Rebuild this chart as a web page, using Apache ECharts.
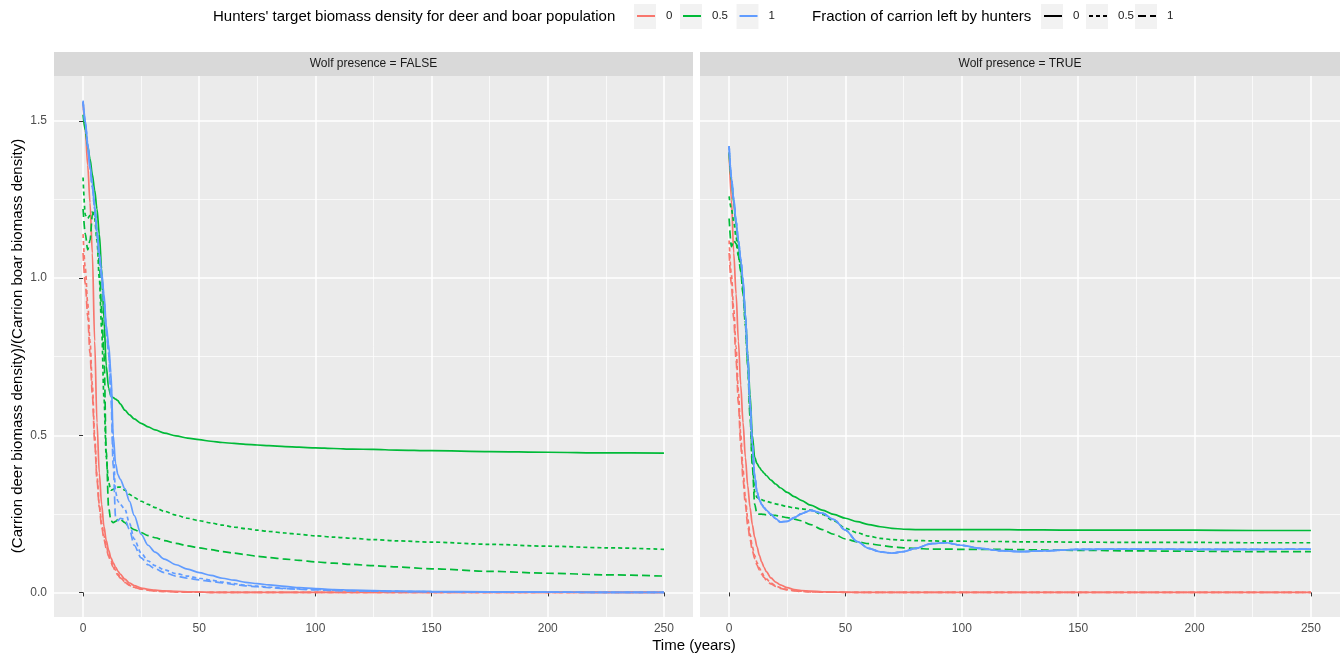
<!DOCTYPE html>
<html>
<head>
<meta charset="utf-8">
<title>Carrion biomass ratio</title>
<script src="https://cdn.jsdelivr.net/npm/echarts@6/dist/echarts.min.js"></script>
<style>
  html, body { margin: 0; padding: 0; background: #fff; }
  #chart { width: 1343px; height: 656px; }
</style>
</head>
<body>
<div id="chart"></div>
<script>
// time axis shared by every run (years)
const years = [0, 1, 2, 3, 4, 5, 6, 7, 8, 9, 10, 11, 12, 13, 14, 15, 16, 18, 20, 22, 25, 28, 31, 35, 40, 45, 50,
  55, 60, 65, 70, 75, 80, 87, 93, 100, 108, 116, 125, 135, 150, 175, 200, 225, 250]

const xTicks = [0, 50, 100, 150, 200, 250]
const xMinor = [25, 75, 125, 175, 225]
const yTicks = [0, 0.5, 1, 1.5]
const yMinor = [0.25, 0.75, 1.25]

// Wolf presence = FALSE
const redSolidF = [1.56, 1.47, 1.36, 1.24, 1.08, 0.8, 0.54, 0.38, 0.28, 0.21, 0.165, 0.135, 0.11, 0.094, 0.08, 0.068, 0.058,
  0.042, 0.03, 0.022, 0.014, 0.01, 0.007, 0.005, 0.003, 0.002, 0.001,
  0, 0, 0, 0, 0, 0, 0, 0, 0, 0, 0, 0, 0, 0, 0, 0, 0, 0]
const redDotF = [1.14, 1.03, 0.92, 0.8, 0.66, 0.5, 0.37, 0.28, 0.22, 0.18, 0.15, 0.12, 0.1, 0.085, 0.07, 0.058, 0.048,
  0.034, 0.024, 0.017, 0.011, 0.007, 0.005, 0.003, 0.002, 0.001, 0.001,
  0, 0, 0, 0, 0, 0, 0, 0, 0, 0, 0, 0, 0, 0, 0, 0, 0, 0]
const redDashF = [1.08, 0.98, 0.88, 0.76, 0.63, 0.48, 0.36, 0.27, 0.21, 0.17, 0.14, 0.115, 0.095, 0.08, 0.066, 0.055, 0.046,
  0.032, 0.022, 0.016, 0.01, 0.007, 0.004, 0.003, 0.002, 0.001, 0.001,
  0, 0, 0, 0, 0, 0, 0, 0, 0, 0, 0, 0, 0, 0, 0, 0, 0, 0]
const greenSolidF = [1.52, 1.47, 1.42, 1.38, 1.33, 1.28, 1.22, 1.14, 1.03, 0.87, 0.72, 0.65, 0.625, 0.62, 0.615, 0.61, 0.6,
  0.58, 0.565, 0.552, 0.538, 0.527, 0.517, 0.507, 0.498, 0.491, 0.486,
  0.481, 0.477, 0.474, 0.471, 0.469, 0.467, 0.464, 0.462, 0.46,
  0.458, 0.456, 0.455, 0.453, 0.451, 0.448, 0.446, 0.444, 0.443]
const greenDotF = [1.32, 1.2, 1.19, 1.2, 1.21, 1.19, 1.12, 1.0, 0.84, 0.62, 0.43, 0.35, 0.325, 0.328, 0.332, 0.335, 0.335,
  0.325, 0.312, 0.302, 0.29, 0.28, 0.27, 0.258, 0.246, 0.236, 0.228,
  0.221, 0.214, 0.208, 0.203, 0.198, 0.194, 0.189, 0.185, 0.18,
  0.176, 0.172, 0.168, 0.164, 0.16, 0.153, 0.147, 0.142, 0.137]
const greenDashF = [1.22, 1.14, 1.09, 1.12, 1.2, 1.22, 1.15, 1.05, 0.9, 0.76, 0.45, 0.27, 0.228, 0.222, 0.226, 0.232, 0.233,
  0.222, 0.208, 0.2, 0.19, 0.181, 0.174, 0.165, 0.156, 0.148, 0.142,
  0.136, 0.13, 0.125, 0.12, 0.115, 0.111, 0.106, 0.102, 0.097,
  0.093, 0.089, 0.085, 0.081, 0.075, 0.067, 0.061, 0.056, 0.052]
const blueSolidF = [1.565, 1.5, 1.43, 1.36, 1.3, 1.23, 1.15, 1.08, 1.02, 0.95, 0.85, 0.79, 0.7, 0.5, 0.41, 0.375, 0.36,
  0.33, 0.29, 0.245, 0.185, 0.15, 0.128, 0.106, 0.088, 0.074, 0.063,
  0.054, 0.045, 0.039, 0.032, 0.028, 0.024, 0.019, 0.015, 0.012,
  0.009, 0.007, 0.006, 0.004, 0.003, 0.002, 0.001, 0, 0]
const blueDotF = [1.56, 1.49, 1.42, 1.35, 1.29, 1.22, 1.14, 1.07, 1.0, 0.93, 0.84, 0.77, 0.66, 0.45, 0.32, 0.29, 0.28,
  0.265, 0.22, 0.17, 0.125, 0.1, 0.085, 0.072, 0.06, 0.052, 0.045,
  0.039, 0.033, 0.028, 0.023, 0.02, 0.017, 0.013, 0.011, 0.009,
  0.007, 0.005, 0.004, 0.003, 0.002, 0.001, 0.001, 0, 0]
const blueDashF = [1.56, 1.49, 1.42, 1.35, 1.29, 1.22, 1.14, 1.07, 1.0, 0.92, 0.83, 0.76, 0.62, 0.4, 0.24, 0.228, 0.236,
  0.232, 0.2, 0.15, 0.11, 0.088, 0.075, 0.063, 0.052, 0.045, 0.04,
  0.035, 0.03, 0.025, 0.021, 0.018, 0.015, 0.012, 0.01, 0.008,
  0.006, 0.005, 0.004, 0.003, 0.002, 0.001, 0.001, 0, 0]

// Wolf presence = TRUE
const redSolidT = [1.4, 1.25, 1.08, 0.95, 0.8, 0.66, 0.54, 0.43, 0.34, 0.27, 0.215, 0.175, 0.145, 0.118, 0.097, 0.08, 0.066,
  0.046, 0.033, 0.024, 0.015, 0.009, 0.006, 0.004, 0.002, 0.001, 0.001,
  0, 0, 0, 0, 0, 0, 0, 0, 0, 0, 0, 0, 0, 0, 0, 0, 0, 0]
const redDotT = [1.12, 1.01, 0.9, 0.78, 0.64, 0.5, 0.39, 0.3, 0.235, 0.185, 0.145, 0.117, 0.095, 0.078, 0.064, 0.052, 0.043,
  0.03, 0.021, 0.015, 0.009, 0.006, 0.004, 0.002, 0.001, 0.001, 0,
  0, 0, 0, 0, 0, 0, 0, 0, 0, 0, 0, 0, 0, 0, 0, 0, 0, 0]
const redDashT = [1.08, 0.98, 0.87, 0.74, 0.6, 0.47, 0.36, 0.28, 0.215, 0.17, 0.133, 0.107, 0.087, 0.071, 0.058, 0.048, 0.039,
  0.027, 0.019, 0.013, 0.008, 0.005, 0.003, 0.002, 0.001, 0.001, 0,
  0, 0, 0, 0, 0, 0, 0, 0, 0, 0, 0, 0, 0, 0, 0, 0, 0, 0]
const greenSolidT = [1.4, 1.31, 1.24, 1.17, 1.11, 1.05, 0.98, 0.88, 0.76, 0.63, 0.5, 0.43, 0.41, 0.398, 0.388, 0.38, 0.372,
  0.357, 0.345, 0.333, 0.318, 0.305, 0.293, 0.278, 0.262, 0.248, 0.236,
  0.225, 0.216, 0.209, 0.204, 0.201, 0.2, 0.2, 0.2, 0.2,
  0.2, 0.2, 0.199, 0.199, 0.198, 0.198, 0.198, 0.197, 0.197]
const greenDotT = [1.26, 1.22, 1.18, 1.13, 1.08, 1.03, 0.96, 0.86, 0.73, 0.58, 0.42, 0.32, 0.302, 0.298, 0.295, 0.292, 0.29,
  0.286, 0.282, 0.278, 0.273, 0.269, 0.266, 0.262, 0.248, 0.228, 0.204,
  0.19, 0.179, 0.172, 0.168, 0.166, 0.165, 0.164, 0.163, 0.163,
  0.162, 0.162, 0.161, 0.161, 0.16, 0.159, 0.159, 0.158, 0.158]
const greenDashT = [1.19, 1.1, 1.12, 1.11, 1.07, 1.02, 0.95, 0.85, 0.72, 0.56, 0.4, 0.28, 0.25, 0.249, 0.249, 0.248, 0.247,
  0.246, 0.245, 0.242, 0.238, 0.233, 0.228, 0.216, 0.2, 0.185, 0.17,
  0.161, 0.155, 0.15, 0.145, 0.142, 0.14, 0.138, 0.138, 0.137,
  0.137, 0.137, 0.136, 0.135, 0.134, 0.132, 0.131, 0.13, 0.13]
const blueSolidT = [1.42, 1.32, 1.25, 1.18, 1.12, 1.06, 0.99, 0.88, 0.75, 0.6, 0.47, 0.37, 0.32, 0.295, 0.28, 0.27, 0.262,
  0.248, 0.235, 0.224, 0.226, 0.238, 0.25, 0.261, 0.252, 0.232, 0.198,
  0.162, 0.14, 0.129, 0.125, 0.13, 0.14, 0.155, 0.158, 0.15,
  0.14, 0.133, 0.13, 0.132, 0.137, 0.138, 0.137, 0.137, 0.138]
const blueDotT = [1.42, 1.32, 1.25, 1.18, 1.12, 1.06, 0.99, 0.88, 0.75, 0.6, 0.47, 0.37, 0.32, 0.295, 0.28, 0.27, 0.262,
  0.248, 0.235, 0.224, 0.226, 0.238, 0.25, 0.261, 0.252, 0.232, 0.198,
  0.162, 0.14, 0.129, 0.125, 0.13, 0.14, 0.155, 0.158, 0.15,
  0.14, 0.133, 0.13, 0.132, 0.137, 0.138, 0.137, 0.137, 0.138]
const blueDashT = [1.42, 1.32, 1.25, 1.18, 1.12, 1.06, 0.99, 0.88, 0.75, 0.6, 0.47, 0.37, 0.32, 0.295, 0.28, 0.27, 0.262,
  0.248, 0.235, 0.224, 0.226, 0.238, 0.25, 0.261, 0.252, 0.232, 0.198,
  0.162, 0.14, 0.129, 0.125, 0.13, 0.14, 0.155, 0.158, 0.15,
  0.14, 0.133, 0.13, 0.132, 0.137, 0.138, 0.137, 0.137, 0.138]

const colors = { '0': '#F8766D', '0.5': '#00BA38', '1': '#619CFF' }
const dashes = { '0': 'solid', '0.5': [4, 3], '1': [8, 4] }

const runs = [
  [0, '0', '0', redSolidF], [0, '0', '0.5', redDotF], [0, '0', '1', redDashF],
  [0, '0.5', '0', greenSolidF], [0, '0.5', '0.5', greenDotF], [0, '0.5', '1', greenDashF],
  [0, '1', '0', blueSolidF], [0, '1', '0.5', blueDotF], [0, '1', '1', blueDashF],
  [1, '0', '0', redSolidT], [1, '0', '0.5', redDotT], [1, '0', '1', redDashT],
  [1, '0.5', '0', greenSolidT], [1, '0.5', '0.5', greenDotT], [1, '0.5', '1', greenDashT],
  [1, '1', '0', blueSolidT], [1, '1', '0.5', blueDotT], [1, '1', '1', blueDashT]
]

const font = 'Liberation Sans, Arial, sans-serif'
const chart = echarts.init(document.getElementById('chart'))

function axisPair (kind, gridIndex) {
  const isX = kind === 'x'
  const showLabels = isX || gridIndex === 0
  const base = {
    type: 'value',
    gridIndex: gridIndex,
    min: isX ? -12.5 : -0.07825,
    max: isX ? 262.5 : 1.64325,
    axisLine: { show: false }
  }
  const major = Object.assign({}, base, {
    axisTick: { show: showLabels, length: 4, lineStyle: { color: '#333333', width: 1 }, customValues: isX ? xTicks : yTicks },
    axisLabel: {
      show: showLabels,
      customValues: isX ? xTicks : yTicks,
      color: '#4D4D4D',
      fontSize: 12,
      fontFamily: font,
      margin: isX ? 6 : 7,
      formatter: v => isX ? String(v) : v.toFixed(1)
    },
    splitLine: { lineStyle: { color: '#FFFFFF', width: 1.5 } }
  })
  const minor = Object.assign({}, base, {
    axisTick: { show: false, customValues: isX ? xMinor : yMinor },
    axisLabel: { show: false, customValues: isX ? xMinor : yMinor },
    splitLine: { lineStyle: { color: '#FFFFFF', width: 0.7 } }
  })
  return [major, minor]
}

const dataSeries = runs.map(([panel, target, frac, values]) => ({
  name: (panel ? 'TRUE' : 'FALSE') + ' ' + target + ' ' + frac,
  type: 'line',
  xAxisIndex: panel * 2,
  yAxisIndex: panel * 2,
  data: years.map((t, i) => [t, values[i]]),
  symbol: 'none',
  smooth: 0.3,
  smoothMonotone: 'x',
  silent: true,
  lineStyle: { color: colors[target], width: 1.7, type: dashes[frac] },
  itemStyle: { color: colors[target] }
}))

// legend keys: one empty series per key so each legend gets its own line icon
const keys = [
  { name: 'hunt0', label: '0', color: colors['0'], type: 'solid', cx: 645 },
  { name: 'hunt05', label: '0.5', color: colors['0.5'], type: 'solid', cx: 691 },
  { name: 'hunt1', label: '1', color: colors['1'], type: 'solid', cx: 747.5 },
  { name: 'frac0', label: '0', color: '#000000', type: dashes['0'], cx: 1052 },
  { name: 'frac05', label: '0.5', color: '#000000', type: dashes['0.5'], cx: 1097 },
  { name: 'frac1', label: '1', color: '#000000', type: dashes['1'], cx: 1146 }
]
const keySeries = keys.map(k => ({
  name: k.name,
  type: 'line',
  xAxisIndex: 0,
  yAxisIndex: 0,
  data: [],
  symbol: 'none',
  lineStyle: { color: k.color, width: 1.7, type: k.type },
  itemStyle: { color: k.color }
}))
const legends = keys.map(k => ({
  data: [k.name],
  left: k.cx - 9,
  top: 10,
  padding: 0,
  itemWidth: 18,
  itemHeight: 14,
  selectedMode: false,
  itemStyle: { opacity: 0 },
  formatter: () => k.label,
  textStyle: { fontSize: 11.5, color: '#1A1A1A', fontFamily: font, padding: [0, 0, 0, 6] }
}))

const keyBoxes = keys.map(k => ({
  type: 'rect',
  shape: { x: k.cx - 11, y: 4, width: 22, height: 25 },
  style: { fill: '#F2F2F2' },
  z: -1
}))

const option = {
  animation: false,
  backgroundColor: '#FFFFFF',
  legend: legends,
  grid: [
    { left: 54, top: 76, width: 639, height: 541, show: true, backgroundColor: '#EBEBEB', borderWidth: 0, outerBoundsMode: 'none' },
    { left: 700, top: 76, width: 640, height: 541, show: true, backgroundColor: '#EBEBEB', borderWidth: 0, outerBoundsMode: 'none' }
  ],
  xAxis: axisPair('x', 0).concat(axisPair('x', 1)),
  yAxis: axisPair('y', 0).concat(axisPair('y', 1)),
  series: dataSeries.concat(keySeries),
  graphic: keyBoxes.concat([
    { type: 'rect', shape: { x: 54, y: 52, width: 639, height: 24 }, style: { fill: '#D9D9D9' } },
    { type: 'rect', shape: { x: 700, y: 52, width: 640, height: 24 }, style: { fill: '#D9D9D9' } },
    { type: 'text', x: 373.5, y: 64, style: { text: 'Wolf presence = FALSE', fill: '#1A1A1A', font: '12px ' + font, textAlign: 'center', textVerticalAlign: 'middle' } },
    { type: 'text', x: 1020, y: 64, style: { text: 'Wolf presence = TRUE', fill: '#1A1A1A', font: '12px ' + font, textAlign: 'center', textVerticalAlign: 'middle' } },
    { type: 'text', x: 213, y: 17, style: { text: "Hunters' target biomass density for deer and boar population", fill: '#000000', font: '15px ' + font, textAlign: 'left', textVerticalAlign: 'middle' } },
    { type: 'text', x: 812, y: 17, style: { text: 'Fraction of carrion left by hunters', fill: '#000000', font: '15px ' + font, textAlign: 'left', textVerticalAlign: 'middle' } },
    { type: 'text', x: 694, y: 646, style: { text: 'Time (years)', fill: '#000000', font: '15px ' + font, textAlign: 'center', textVerticalAlign: 'middle' } },
    { type: 'text', x: 18, y: 346, rotation: Math.PI / 2, style: { text: '(Carrion deer biomass density)/(Carrion boar biomass density)', fill: '#000000', font: '15px ' + font, textAlign: 'center', textVerticalAlign: 'middle' } }
  ])
}

chart.setOption(option)
</script>
</body>
</html>
